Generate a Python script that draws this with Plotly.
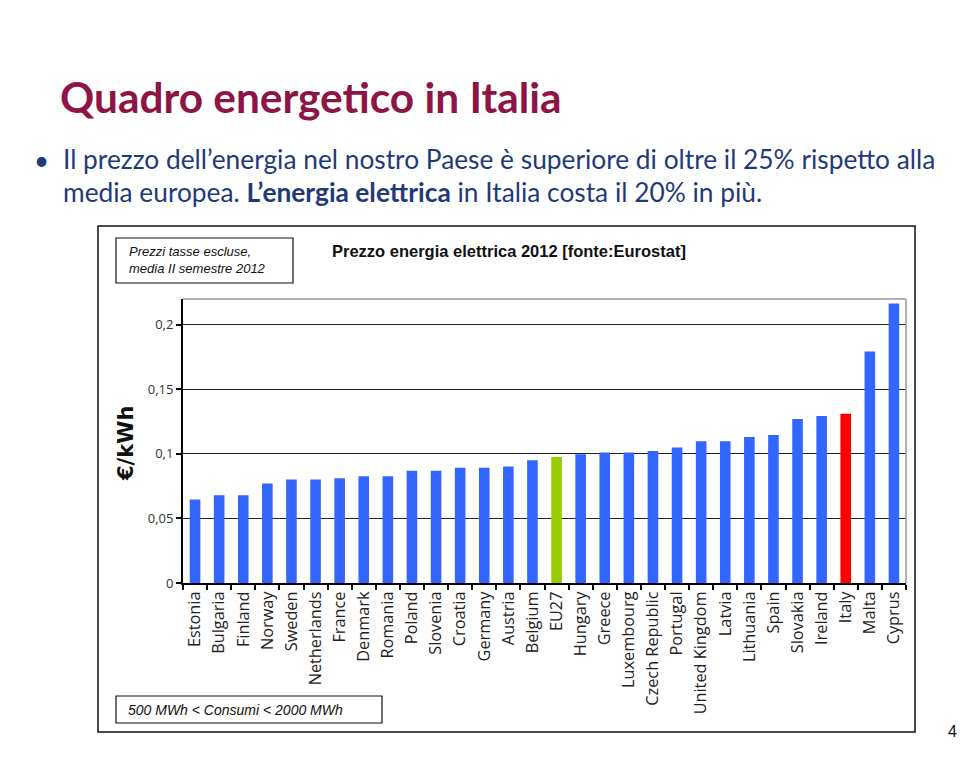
import plotly.graph_objects as go

countries = ["Estonia", "Bulgaria", "Finland", "Norway", "Sweden", "Netherlands", "France",
             "Denmark", "Romania", "Poland", "Slovenia", "Croatia", "Germany", "Austria",
             "Belgium", "EU27", "Hungary", "Greece", "Luxembourg", "Czech Republic", "Portugal",
             "United Kingdom", "Latvia", "Lithuania", "Spain", "Slovakia", "Ireland", "Italy",
             "Malta", "Cyprus"]
prices = [0.0647, 0.0680, 0.0680, 0.0771, 0.0802, 0.0802, 0.0812,
          0.0827, 0.0827, 0.0869, 0.0869, 0.0892, 0.0892, 0.0902,
          0.0951, 0.0977, 0.0997, 0.1010, 0.1010, 0.1023, 0.1049,
          0.1098, 0.1098, 0.1131, 0.1147, 0.1271, 0.1294, 0.1312,
          0.1794, 0.2165]
y_tick_vals = [0, 0.05, 0.1, 0.15, 0.2]
y_tick_text = ["0", "0,05", "0,1", "0,15", "0,2"]

BLUE, GREEN, RED = "#3366FF", "#99CC00", "#FF0000"
colors = [GREEN if c == "EU27" else RED if c == "Italy" else BLUE for c in countries]

W, H = 960, 759
L, R, T, B = 183, 906, 299, 583


def px(x):
    return (x - L) / (R - L)


def py(y):
    return (B - y) / (B - T)


fig = go.Figure(go.Bar(x=countries, y=prices, marker=dict(color=colors, line=dict(width=0)),
                       hoverinfo="x+y"))

fig.update_layout(
    width=W, height=H,
    margin=dict(l=L, r=W - R, t=T, b=H - B),
    paper_bgcolor="white", plot_bgcolor="white",
    bargap=0.56, showlegend=False,
    font=dict(family="Lato, sans-serif"),
)
fig.update_xaxes(
    type="category", tickson="boundaries", ticks="outside", ticklen=5, tickwidth=2,
    tickcolor="black", showline=True, linecolor="black", linewidth=2, mirror=False,
    tickangle=-90, tickfont=dict(family="Open Sans, sans-serif", size=16.3, color="#222"),
    showgrid=False,
)
fig.update_yaxes(
    range=[0, 0.22], tickvals=y_tick_vals, ticktext=y_tick_text, ticks="outside",
    ticklen=5, tickwidth=2, tickcolor="black", showline=True, linecolor="black", linewidth=2,
    showgrid=True, gridcolor="#222", gridwidth=1, zeroline=False,
    tickfont=dict(family="Open Sans, sans-serif", size=13, color="#333"),
)

shapes = [
    dict(type="line", xref="paper", yref="paper", x0=0, x1=1, y0=1, y1=1,
         line=dict(color="#999", width=1.5)),
    dict(type="line", xref="paper", yref="paper", x0=1, x1=1, y0=0, y1=1,
         line=dict(color="#999", width=1.5)),
    dict(type="rect", xref="paper", yref="paper", x0=px(98), x1=px(915), y0=py(732), y1=py(226),
         line=dict(color="#111", width=1.5), layer="below"),
    dict(type="rect", xref="paper", yref="paper", x0=px(116), x1=px(293), y0=py(283), y1=py(238),
         line=dict(color="#111", width=1.2)),
    dict(type="rect", xref="paper", yref="paper", x0=px(116), x1=px(382), y0=py(723), y1=py(696),
         line=dict(color="#111", width=1.2)),
]
fig.update_layout(shapes=shapes)

anns = [
    dict(text="<b>Quadro energetico in Italia</b>", x=px(58), y=py(96), xanchor="left",
         yanchor="middle", font=dict(family="Lato, sans-serif", size=42.4, color="#8E1446")),
    dict(text="•", x=px(32), y=py(160), xanchor="left", yanchor="middle",
         font=dict(family="Lato, sans-serif", size=26, color="#1F3A7A")),
    dict(text="Il prezzo dell’energia nel nostro Paese è superiore di oltre il 25% rispetto alla",
         x=px(61), y=py(159), xanchor="left", yanchor="middle",
         font=dict(family="Lato, sans-serif", size=26.3, color="#1F3A7A")),
    dict(text="media europea. <b>L’energia elettrica</b> in Italia costa il 20% in più.",
         x=px(61), y=py(192), xanchor="left", yanchor="middle",
         font=dict(family="Lato, sans-serif", size=26.3, color="#1F3A7A")),
    dict(text="<i>Prezzi tasse escluse,<br>media II semestre 2012</i>", x=px(127), y=py(260),
         xanchor="left", yanchor="middle", align="left",
         font=dict(family="Liberation Sans, Arial, sans-serif", size=13, color="#111")),
    dict(text="<b>Prezzo energia elettrica 2012 [fonte:Eurostat]</b>", x=px(330), y=py(251),
         xanchor="left", yanchor="middle",
         font=dict(family="Liberation Sans, sans-serif", size=16.5, color="#111")),
    dict(text="<b>€/kWh</b>", x=px(126), y=py(444), xanchor="center", yanchor="middle",
         textangle=-90, font=dict(family="DejaVu Sans, sans-serif", size=21, color="#111")),
    dict(text="<i>500 MWh < Consumi < 2000 MWh</i>", x=px(126), y=py(710), xanchor="left",
         yanchor="middle", font=dict(family="Liberation Sans, Arial, sans-serif", size=14, color="#111")),
    dict(text="4", x=px(952), y=py(731), xanchor="center", yanchor="middle",
         font=dict(family="Liberation Sans, Arial, sans-serif", size=16, color="#111")),
]
for a in anns:
    a.update(xref="paper", yref="paper", showarrow=False)
fig.update_layout(annotations=anns)

fig.write_html("out.html", config={"displayModeBar": False},
               post_script="document.body.style.margin='0';document.body.style.overflow='hidden';")
